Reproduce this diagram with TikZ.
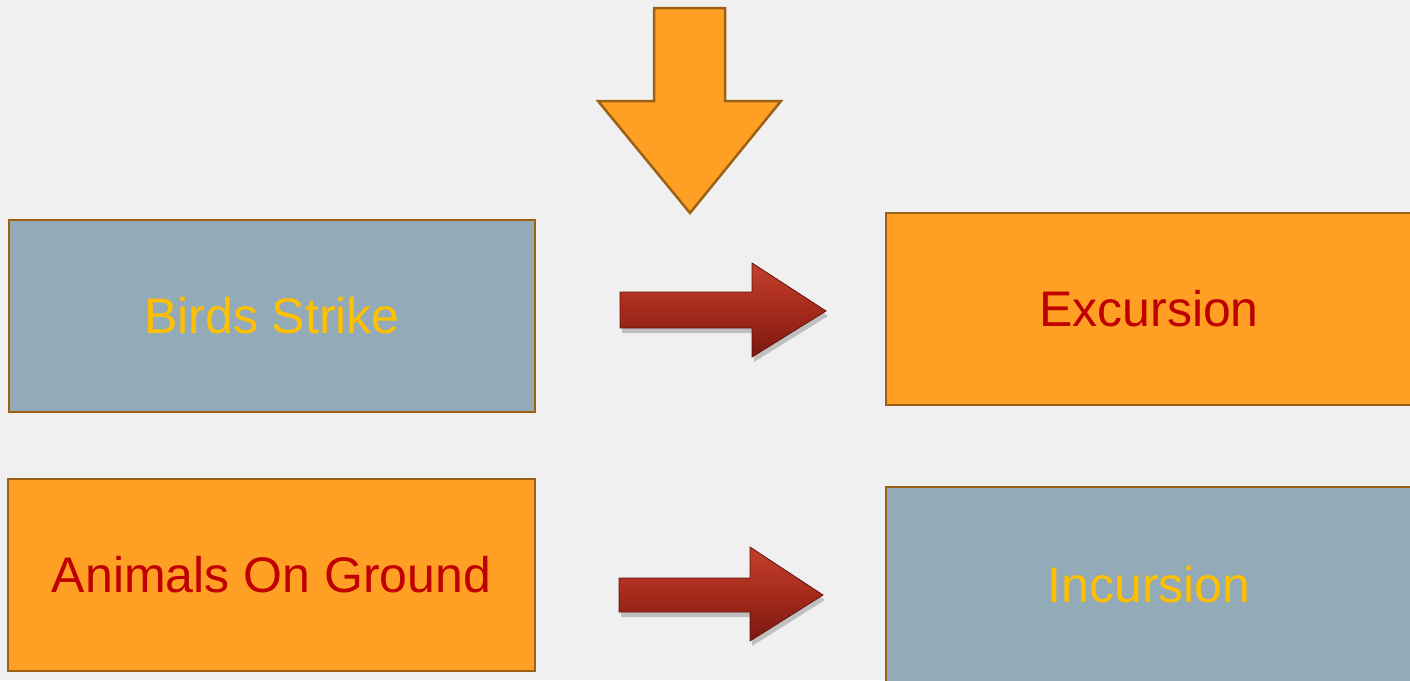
\documentclass[tikz,border=0pt]{standalone}
\usepackage{fontspec}
\setmainfont{Liberation Sans}
\usetikzlibrary{shadows,fadings}
\definecolor{bg}{HTML}{F0F0F0}
\definecolor{boxorange}{HTML}{FFA024}
\definecolor{boxedge}{HTML}{9C6114}
\definecolor{boxblue}{HTML}{93AAB9}
\definecolor{txtred}{HTML}{C00000}
\definecolor{txtgold}{HTML}{FFC000}
\definecolor{arrtop}{HTML}{C2402C}
\definecolor{arrmid}{HTML}{A62A1C}
\definecolor{arrbot}{HTML}{7A1810}
\tikzset{
  box/.style={draw=boxedge, line width=2.8pt, minimum width=#1, anchor=center, inner sep=0pt, font=\fontsize{50}{58}\selectfont},
  orangebox/.style={box=#1, fill=boxorange, text=txtred, minimum height=192pt},
  bluebox/.style={box=#1, fill=boxblue, text=txtgold, minimum height=192pt},
  redarrow/.style={top color=arrtop, bottom color=arrbot, middle color=arrmid, draw=arrbot!80!black, line width=0.8pt,
     drop shadow={shadow xshift=2pt, shadow yshift=-5pt, opacity=0.35, fill=black!60}},
  downarrow/.style={fill=boxorange, draw=boxedge, line width=2.5pt, line join=miter}
}
\begin{document}
\begin{tikzpicture}[x=1pt,y=-1pt]
\useasboundingbox (0,0) rectangle (1410,680);
\fill[bg] (0,0) rectangle (1410,680);
\clip (0,0) rectangle (1410,680);

% boxes
\node[bluebox=526pt] (birds) at (272,316) {Birds Strike};
\node[orangebox=527pt] (animals) at (271.5,575) {Animals On Ground};
\node[orangebox=526pt] (excursion) at (1149,309) {Excursion};
\node[bluebox=526pt, minimum height=196pt] (incursion) at (1149,585) {Incursion};

% top down arrow
\coordinate (topTip) at (690,213);
\draw[downarrow] (654,8) -- (725,8) -- (725,101) -- (781,101) -- (topTip) -- (598,101) -- (654,101) -- cycle;

% red arrows
\coordinate (a1tip) at (826,311);
\draw[redarrow] (620,292) -- (752,292) -- (752,263) -- (a1tip) -- (752,357) -- (752,328) -- (620,328) -- cycle;
\coordinate (a2tip) at (823,595);
\draw[redarrow] (619,578) -- (750,578) -- (750,547) -- (a2tip) -- (750,641) -- (750,612) -- (619,612) -- cycle;
\end{tikzpicture}
\end{document}
